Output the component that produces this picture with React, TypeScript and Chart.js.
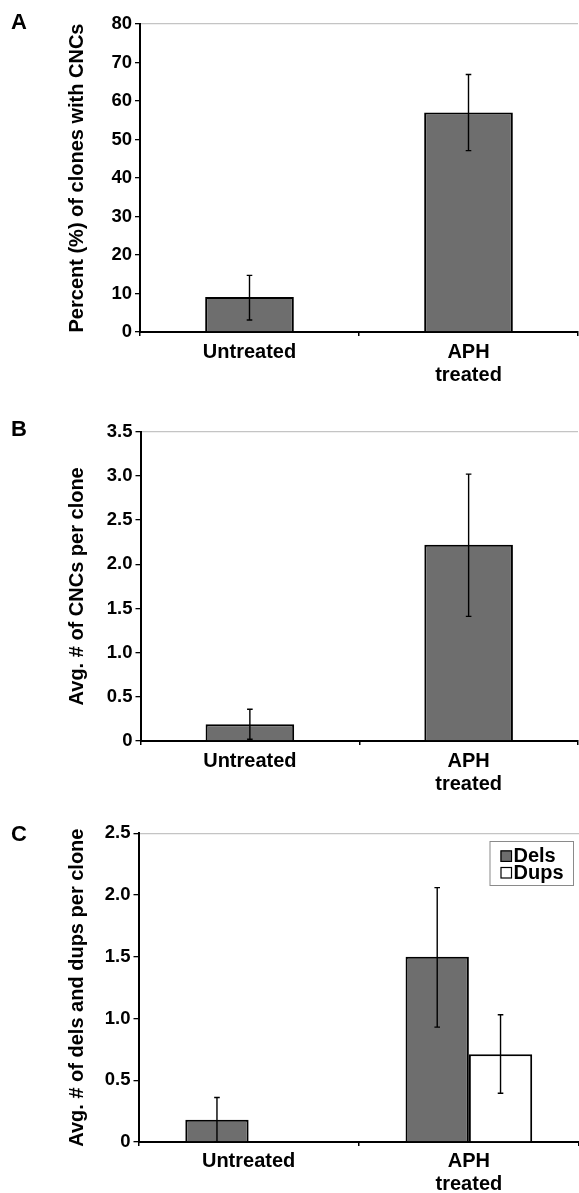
import React, { useEffect, useRef } from 'react';
import { Chart, registerables } from 'chart.js';

Chart.register(...registerables);

// ---------- data ----------
const categories = [['Untreated'], ['APH', 'treated']];

// Panel A
const pctValues = [9.1, 57.0];
const pctLow = [3.1, 47.1];
const pctHigh = [14.7, 66.9];
const pctTicks = ['0', '10', '20', '30', '40', '50', '60', '70', '80'];

// Panel B
const avgValues = [0.19, 2.22];
const avgLow = [0.02, 1.41];
const avgHigh = [0.36, 3.02];
const avgTicks = ['0', '0.5', '1.0', '1.5', '2.0', '2.5', '3.0', '3.5'];

// Panel C
const seriesNames = ['Dels', 'Dups'];
const delsValues = [0.18, 1.5];
const delsLow = [0.0, 0.93];
const delsHigh = [0.36, 2.06];
const dupsValues = [null, 0.71];
const dupsLow = [null, 0.395];
const dupsHigh = [null, 1.03];
const cTicks = ['0', '0.5', '1.0', '1.5', '2.0', '2.5'];

const FONT = '"Liberation Sans", Arial, sans-serif';
const GRAY = '#6e6e6e';

const errorBarPlugin = {
  id: 'errorBars',
  afterDatasetsDraw(chart: any) {
    const ctx = chart.ctx;
    const ys = chart.scales.y;
    chart.data.datasets.forEach((ds: any, d: number) => {
      const meta = chart.getDatasetMeta(d);
      meta.data.forEach((bar: any, i: number) => {
        const lo = ds.errLow ? ds.errLow[i] : null;
        const hi = ds.errHigh ? ds.errHigh[i] : null;
        if (lo == null || hi == null) return;
        const x = bar.x;
        const yLo = ys.getPixelForValue(lo);
        const yHi = ys.getPixelForValue(hi);
        ctx.save();
        ctx.strokeStyle = '#000';
        ctx.lineWidth = 1.4;
        ctx.beginPath();
        ctx.moveTo(x, yHi);
        ctx.lineTo(x, yLo);
        ctx.moveTo(x - 2.8, yHi);
        ctx.lineTo(x + 2.8, yHi);
        ctx.moveTo(x - 2.8, yLo);
        ctx.lineTo(x + 2.8, yLo);
        ctx.stroke();
        ctx.restore();
      });
    });
  },
};

const boxLegendPlugin = {
  id: 'boxLegend',
  afterDraw(chart: any) {
    const ctx = chart.ctx;
    const area = chart.chartArea;
    const dsets = chart.data.datasets;
    ctx.save();
    ctx.font = `bold 20px ${FONT}`;
    let maxW = 0;
    dsets.forEach((ds: any) => {
      maxW = Math.max(maxW, ctx.measureText(ds.label).width);
    });
    const padL = 11, sq = 11.5, gap = 1.5, padR = 10.5;
    const boxW = padL + sq + gap + maxW + padR;
    const boxH = 45;
    const right = area.right - 5;
    const left = right - boxW;
    const top = area.top + 7.7;
    ctx.fillStyle = '#fff';
    ctx.fillRect(left, top, boxW, boxH);
    ctx.strokeStyle = '#8a8a8a';
    ctx.lineWidth = 1;
    ctx.strokeRect(left + 0.5, top + 0.5, boxW - 1, boxH - 1);
    const rows = [15.7, 32.3];
    dsets.forEach((ds: any, i: number) => {
      const cy = top + rows[i];
      ctx.fillStyle = ds.backgroundColor;
      ctx.fillRect(left + padL, cy - 6.3, sq, sq);
      ctx.strokeStyle = '#000';
      ctx.lineWidth = 1.2;
      ctx.strokeRect(left + padL + 0.5, cy - 6.3 + 0.5, sq - 1, sq - 1);
      ctx.fillStyle = '#000';
      ctx.textBaseline = 'middle';
      ctx.textAlign = 'left';
      ctx.fillText(ds.label, left + padL + sq + gap, cy);
    });
    ctx.restore();
  },
};

function makeConfig(p: any) {
  return {
    type: 'bar',
    data: { labels: categories, datasets: p.datasets },
    options: {
      responsive: false,
      maintainAspectRatio: false,
      animation: false,
      layout: { padding: { left: 65, right: p.padRight, top: p.padTop, bottom: 0 } },
      plugins: { legend: { display: false }, tooltip: { enabled: false } },
      scales: {
        x: {
          offset: true,
          grid: {
            offset: true,
            drawOnChartArea: false,
            tickLength: 4,
            tickColor: '#000',
            lineWidth: 1.5,
          },
          border: { color: '#000', width: 2 },
          ticks: {
            color: '#000',
            font: { family: FONT, size: 20, weight: 'bold', lineHeight: 1.15 },
            padding: p.xPad,
            maxRotation: 0,
            autoSkip: false,
          },
          afterFit: (s: any) => {
            s.height = p.xHeight;
          },
        },
        y: {
          min: 0,
          max: p.max,
          ticks: {
            stepSize: p.step,
            color: '#000',
            padding: 3,
            font: { family: FONT, size: 18.5, weight: 'bold' },
            callback: (_v: any, i: number) => p.ticks[i],
          },
          grid: {
            color: (c: any) => (c.tick && Math.abs(c.tick.value - p.max) < 1e-9 ? '#c4c4c4' : 'rgba(0,0,0,0)'),
            tickColor: '#000',
            tickLength: 5,
            lineWidth: 1.3,
          },
          border: { color: '#000', width: 2 },
          title: {
            display: true,
            text: p.title,
            color: '#000',
            padding: 0,
            font: { family: FONT, size: 20, weight: 'bold', lineHeight: 1.2 },
          },
          afterFit: (s: any) => {
            s.width = p.yWidth;
          },
        },
      },
    },
    plugins: p.legend ? [errorBarPlugin, boxLegendPlugin] : [errorBarPlugin],
  };
}

function Panel({ top, height, params }: any) {
  const ref = useRef<HTMLCanvasElement | null>(null);
  useEffect(() => {
    const chart = new Chart(ref.current as any, makeConfig(params) as any);
    return () => chart.destroy();
  }, []);
  return (
    <canvas
      ref={ref}
      width={579}
      height={height}
      style={{ position: 'absolute', left: 0, top, width: 579, height }}
    />
  );
}

const barBase = {
  borderColor: '#000',
  borderWidth: 2,
  categoryPercentage: 1,
  barPercentage: 0.405,
};

export default function App() {
  const panelA = {
    datasets: [
      { ...barBase, label: 'A', data: pctValues, backgroundColor: GRAY, errLow: pctLow, errHigh: pctHigh },
    ],
    padTop: 24,
    padRight: 1,
    xHeight: 63,
    xPad: 4.5,
    yWidth: 75,
    max: 80,
    step: 10,
    ticks: pctTicks,
    title: 'Percent (%) of clones with CNCs',
  };
  const panelB = {
    datasets: [
      { ...barBase, label: 'B', data: avgValues, backgroundColor: GRAY, errLow: avgLow, errHigh: avgHigh },
    ],
    padTop: 36.7,
    padRight: 1,
    xHeight: 64,
    xPad: 5,
    yWidth: 75.5,
    max: 3.5,
    step: 0.5,
    ticks: avgTicks,
    title: 'Avg. # of CNCs per clone',
  };
  const panelC = {
    datasets: [
      {
        ...barBase,
        categoryPercentage: 0.575,
        barPercentage: 1,
        label: seriesNames[0],
        data: delsValues,
        backgroundColor: GRAY,
        errLow: delsLow,
        errHigh: delsHigh,
      },
      {
        ...barBase,
        categoryPercentage: 0.575,
        barPercentage: 1,
        label: seriesNames[1],
        data: dupsValues,
        backgroundColor: '#ffffff',
        errLow: dupsLow,
        errHigh: dupsHigh,
      },
    ],
    padTop: 33.3,
    padRight: 0,
    xHeight: 51,
    xPad: 3.5,
    yWidth: 73.5,
    max: 2.5,
    step: 0.5,
    ticks: cTicks,
    title: 'Avg. # of dels and dups per clone',
    legend: true,
  };
  const letter = (t: string, top: number) => (
    <div
      style={{
        position: 'absolute',
        left: 11,
        top,
        font: `bold 22px ${FONT}`,
        lineHeight: '22px',
        color: '#000',
      }}
    >
      {t}
    </div>
  );
  return (
    <div
      style={{
        position: 'absolute',
        left: 0,
        top: 0,
        width: 579,
        height: 1193,
        background: '#fff',
        overflow: 'hidden',
      }}
    >
      <Panel top={0} height={395} params={panelA} />
      <Panel top={395} height={410} params={panelB} />
      <Panel top={800} height={393} params={panelC} />
      {letter('A', 11)}
      {letter('B', 417.5)}
      {letter('C', 823)}
    </div>
  );
}
